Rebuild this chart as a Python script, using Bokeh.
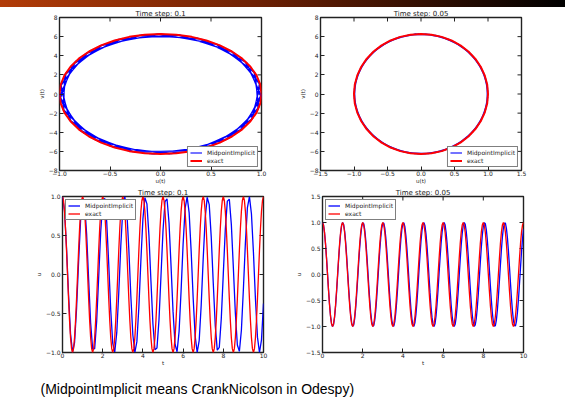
from bokeh.plotting import figure
from bokeh.models import FixedTicker, Label, Range1d, Div
from bokeh.layouts import column, row
from bokeh.embed import file_html
from bokeh.resources import INLINE

# ---------------- data ----------------
titles = ["Time step: 0.1", "Time step: 0.05"]
caption_text = "(MidpointImplicit means CrankNicolson in Odespy)"
series_names = ["MidpointImplicit", "exact"]
step_01 = 0.1
step_005 = 0.05

# MidpointImplicit solution, time step 0.1 (101 steps)
u_mid_01 = [
    1.000, 0.820, 0.346, -0.253, -0.761, -0.995, -0.872, -0.436, 0.157, 0.694,
    0.981, 0.916, 0.521, -0.060, -0.620, -0.957, -0.951, -0.602, -0.037, 0.541,
    0.925, 0.976, 0.677, 0.135, -0.456, -0.883, -0.993, -0.746, -0.231, 0.367,
    0.833, 1.000, 0.807, 0.324, -0.275, -0.775, -0.997, -0.861, -0.415, 0.180,
    0.710, 0.985, 0.906, 0.502, -0.083, -0.638, -0.964, -0.943, -0.584, -0.015,
    0.560, 0.933, 0.971, 0.660, 0.112, -0.476, -0.894, -0.990, -0.730, -0.208,
    0.388, 0.846, 0.999, 0.793, 0.303, -0.297, -0.790, -0.999, -0.849, -0.394,
    0.202, 0.726, 0.989, 0.896, 0.482, -0.106, -0.655, -0.970, -0.935, -0.565,
    0.008, 0.579, 0.941, 0.965, 0.643, 0.089, -0.496, -0.904, -0.986, -0.714,
    -0.186, 0.409, 0.858, 0.998, 0.779, 0.281, -0.318, -0.803, -1.000, -0.837,
    -0.373]
v_mid_01 = [
    0.000, -3.593, -5.895, -6.079, -4.079, -0.613, 3.074, 5.656, 6.205, 4.525,
    1.219, -2.525, -5.361, -6.272, -4.929, -1.815, 1.952, 5.016, 6.279, 5.285,
    2.393, -1.360, -4.624, -6.226, -5.591, -2.947, 0.755, 4.187, 6.114, 5.844,
    3.474, -0.144, -3.710, -5.944, -6.041, -3.968, -0.469, 3.198, 5.717, 6.181,
    4.424, 1.078, -2.655, -5.435, -6.262, -4.838, -1.677, 2.088, 5.102, 6.282,
    5.206, 2.259, -1.500, -4.720, -6.244, -5.524, -2.820, 0.898, 4.293, 6.145,
    5.790, 3.354, -0.287, -3.825, -5.988, -6.000, -3.856, -0.326, 3.321, 5.774,
    6.153, 4.321, 0.936, -2.785, -5.506, -6.248, -4.745, -1.538, 2.223, 5.184,
    6.283, 5.124, 2.124, -1.639, -4.813, -6.258, -5.455, -2.691, 1.040, 4.397,
    6.174, 5.732, 3.232, -0.431, -3.938, -6.030, -5.956, -3.742, -0.183, 3.442,
    5.830]

# MidpointImplicit solution, time step 0.05 (201 steps)
u_mid_005 = [
    1.000, 0.952, 0.812, 0.594, 0.319, 0.013, -0.295, -0.573, -0.797, -0.944,
    -1.000, -0.959, -0.827, -0.614, -0.343, -0.038, 0.270, 0.552, 0.781, 0.935,
    0.999, 0.966, 0.841, 0.634, 0.367, 0.064, -0.245, -0.531, -0.765, -0.926,
    -0.997, -0.972, -0.854, -0.654, -0.390, -0.089, 0.221, 0.509, 0.748, 0.916,
    0.995, 0.978, 0.867, 0.673, 0.413, 0.114, -0.196, -0.487, -0.731, -0.905,
    -0.992, -0.983, -0.879, -0.691, -0.436, -0.140, 0.171, 0.465, 0.714, 0.894,
    0.988, 0.987, 0.891, 0.709, 0.459, 0.165, -0.146, -0.442, -0.696, -0.882,
    -0.984, -0.991, -0.903, -0.727, -0.482, -0.190, 0.120, 0.419, 0.677, 0.870,
    0.979, 0.994, 0.913, 0.744, 0.504, 0.215, -0.095, -0.396, -0.658, -0.857,
    -0.974, -0.997, -0.923, -0.761, -0.526, -0.239, 0.070, 0.372, 0.639, 0.844,
    0.968, 0.998, 0.933, 0.777, 0.547, 0.264, -0.044, -0.349, -0.619, -0.830,
    -0.961, -1.000, -0.942, -0.793, -0.568, -0.289, 0.019, 0.325, 0.599, 0.816,
    0.954, 1.000, 0.950, 0.808, 0.589, 0.313, 0.007, -0.300, -0.578, -0.801,
    -0.946, -1.000, -0.958, -0.823, -0.609, -0.337, -0.032, 0.276, 0.557, 0.785,
    0.937, 0.999, 0.965, 0.837, 0.629, 0.361, 0.057, -0.251, -0.536, -0.769,
    -0.928, -0.998, -0.971, -0.851, -0.649, -0.384, -0.083, 0.227, 0.514, 0.753,
    0.918, 0.995, 0.977, 0.864, 0.668, 0.408, 0.108, -0.202, -0.492, -0.736,
    -0.908, -0.993, -0.982, -0.877, -0.687, -0.431, -0.133, 0.177, 0.470, 0.718,
    0.897, 0.989, 0.986, 0.889, 0.705, 0.454, 0.159, -0.152, -0.448, -0.700,
    -0.885, -0.985, -0.990, -0.900, -0.723, -0.476, -0.184, 0.127, 0.425, 0.682,
    0.873]
v_mid_005 = [
    0.00, -1.93, -3.67, -5.05, -5.96, -6.28, -6.01, -5.15, -3.79, -2.08,
    -0.16, 1.77, 3.54, 4.96, 5.90, 6.28, 6.05, 5.24, 3.92, 2.23,
    0.32, -1.62, -3.41, -4.86, -5.84, -6.27, -6.09, -5.32, -4.05, -2.37,
    -0.48, 1.46, 3.27, 4.76, 5.79, 6.26, 6.13, 5.41, 4.17, 2.53,
    0.64, -1.31, -3.13, -4.65, -5.72, -6.24, -6.16, -5.49, -4.29, -2.67,
    -0.80, 1.15, 2.99, 4.54, 5.66, 6.22, 6.19, 5.56, 4.40, 2.82,
    0.96, -0.99, -2.85, -4.43, -5.58, -6.20, -6.21, -5.64, -4.51, -2.95,
    -1.11, 0.84, 2.71, 4.32, 5.50, 6.17, 6.24, 5.71, 4.62, 3.10,
    1.27, -0.68, -2.56, -4.20, -5.43, -6.14, -6.25, -5.77, -4.73, -3.24,
    -1.43, 0.52, 2.41, 4.08, 5.35, 6.10, 6.27, 5.83, 4.83, 3.37,
    1.58, -0.36, -2.26, -3.95, -5.26, -6.06, -6.28, -5.89, -4.93, -3.51,
    -1.73, 0.20, 2.12, 3.83, 5.17, 6.01, 6.28, 5.94, 5.03, 3.64,
    1.89, -0.04, -1.96, -3.70, -5.08, -5.97, -6.28, -5.99, -5.13, -3.76,
    -2.04, -0.12, 1.81, 3.57, 4.98, 5.92, 6.28, 6.04, 5.22, 3.89,
    2.19, 0.28, -1.66, -3.44, -4.88, -5.86, -6.27, -6.08, -5.30, -4.02,
    -2.34, -0.44, 1.50, 3.30, 4.78, 5.80, 6.26, 6.12, 5.39, 4.14,
    2.49, 0.60, -1.35, -3.16, -4.68, -5.74, -6.25, -6.15, -5.47, -4.25,
    -2.63, -0.76, 1.19, 3.02, 4.57, 5.67, 6.23, 6.18, 5.55, 4.37,
    2.78, 0.92, -1.03, -2.88, -4.46, -5.60, -6.20, -6.21, -5.62, -4.49,
    -2.92, -1.07, 0.87, 2.74, 4.34, 5.52, 6.18, 6.23, 5.69, 4.60,
    3.06]

# exact solution u(t), sampled every 0.05
u_exact = [
    1.000, 0.951, 0.809, 0.588, 0.309, 0.000, -0.309, -0.588, -0.809, -0.951,
    -1.000, -0.951, -0.809, -0.588, -0.309, 0.000, 0.309, 0.588, 0.809, 0.951,
    1.000, 0.951, 0.809, 0.588, 0.309, 0.000, -0.309, -0.588, -0.809, -0.951,
    -1.000, -0.951, -0.809, -0.588, -0.309, 0.000, 0.309, 0.588, 0.809, 0.951,
    1.000, 0.951, 0.809, 0.588, 0.309, 0.000, -0.309, -0.588, -0.809, -0.951,
    -1.000, -0.951, -0.809, -0.588, -0.309, 0.000, 0.309, 0.588, 0.809, 0.951,
    1.000, 0.951, 0.809, 0.588, 0.309, 0.000, -0.309, -0.588, -0.809, -0.951,
    -1.000, -0.951, -0.809, -0.588, -0.309, 0.000, 0.309, 0.588, 0.809, 0.951,
    1.000, 0.951, 0.809, 0.588, 0.309, 0.000, -0.309, -0.588, -0.809, -0.951,
    -1.000, -0.951, -0.809, -0.588, -0.309, 0.000, 0.309, 0.588, 0.809, 0.951,
    1.000, 0.951, 0.809, 0.588, 0.309, 0.000, -0.309, -0.588, -0.809, -0.951,
    -1.000, -0.951, -0.809, -0.588, -0.309, 0.000, 0.309, 0.588, 0.809, 0.951,
    1.000, 0.951, 0.809, 0.588, 0.309, 0.000, -0.309, -0.588, -0.809, -0.951,
    -1.000, -0.951, -0.809, -0.588, -0.309, 0.000, 0.309, 0.588, 0.809, 0.951,
    1.000, 0.951, 0.809, 0.588, 0.309, 0.000, -0.309, -0.588, -0.809, -0.951,
    -1.000, -0.951, -0.809, -0.588, -0.309, 0.000, 0.309, 0.588, 0.809, 0.951,
    1.000, 0.951, 0.809, 0.588, 0.309, 0.000, -0.309, -0.588, -0.809, -0.951,
    -1.000, -0.951, -0.809, -0.588, -0.309, 0.000, 0.309, 0.588, 0.809, 0.951,
    1.000, 0.951, 0.809, 0.588, 0.309, 0.000, -0.309, -0.588, -0.809, -0.951,
    -1.000, -0.951, -0.809, -0.588, -0.309, 0.000, 0.309, 0.588, 0.809, 0.951,
    1.000]

# exact phase-space curve (one period)
u_exact_cycle = [
    1.000, 0.988, 0.951, 0.891, 0.809, 0.707, 0.588, 0.454, 0.309, 0.156,
    0.000, -0.156, -0.309, -0.454, -0.588, -0.707, -0.809, -0.891, -0.951, -0.988,
    -1.000, -0.988, -0.951, -0.891, -0.809, -0.707, -0.588, -0.454, -0.309, -0.156,
    0.000, 0.156, 0.309, 0.454, 0.588, 0.707, 0.809, 0.891, 0.951, 0.988, 1.000]
v_exact_cycle = [
    0.000, -0.983, -1.942, -2.852, -3.693, -4.443, -5.083, -5.598, -5.976, -6.206,
    -6.283, -6.206, -5.976, -5.598, -5.083, -4.443, -3.693, -2.852, -1.942, -0.983,
    0.000, 0.983, 1.942, 2.852, 3.693, 4.443, 5.083, 5.598, 5.976, 6.206,
    6.283, 6.206, 5.976, 5.598, 5.083, 4.443, 3.693, 2.852, 1.942, 0.983, 0.000]

# tick positions and labels
ticks_v = [-8, -6, -4, -2, 0, 2, 4, 6, 8]
labels_v = ["\u22128", "\u22126", "\u22124", "\u22122", "0", "2", "4", "6", "8"]
ticks_u1 = [-1.0, -0.5, 0.0, 0.5, 1.0]
labels_u1 = ["\u22121.0", "\u22120.5", "0.0", "0.5", "1.0"]
ticks_u2 = [-1.5, -1.0, -0.5, 0.0, 0.5, 1.0, 1.5]
labels_u2 = ["\u22121.5", "\u22121.0", "\u22120.5", "0.0", "0.5", "1.0", "1.5"]
ticks_t = [0, 2, 4, 6, 8, 10]
labels_t = ["0", "2", "4", "6", "8", "10"]

# time grids
t_mid_01 = [round(i * step_01, 3) for i in range(len(u_mid_01))]
t_mid_005 = [round(i * step_005, 3) for i in range(len(u_mid_005))]
t_exact = [round(i * step_005, 3) for i in range(len(u_exact))]

BLUE = "#0000ff"
RED = "#ff0000"
FONT = "DejaVu Sans"
TXT = "#222222"
FRAME = "#222222"
TICK_PX = 4


def make_fig(title, xr, yr, xt, xl, yt, yl, xlab, ylab, fw, fh, bl, br, bb):
    p = figure(frame_width=fw, frame_height=fh, x_range=Range1d(*xr), y_range=Range1d(*yr),
               output_backend="svg", toolbar_location=None,
               min_border_left=bl, min_border_right=br, min_border_top=0, min_border_bottom=bb)
    p.title.text = title
    p.title.align = "center"
    p.title.text_font = FONT
    p.title.text_font_size = "7px"
    p.title.text_font_style = "normal"
    p.title.text_color = TXT
    p.title.standoff = 0
    p.title.offset = 0
    p.grid.visible = False
    p.outline_line_color = FRAME
    p.outline_line_width = 1.4
    p.background_fill_color = "white"
    p.border_fill_color = "white"
    for ax, ticks, labels, lab, std, lstd in ((p.xaxis[0], xt, xl, xlab, 0, -1),
                                               (p.yaxis[0], yt, yl, ylab, 2, 1)):
        ax.ticker = FixedTicker(ticks=ticks)
        ax.major_label_overrides = {k: s for k, s in zip(ticks, labels)}
        ax.axis_line_color = None
        ax.major_tick_in = TICK_PX
        ax.major_tick_out = 0
        ax.major_tick_line_color = FRAME
        ax.minor_tick_line_color = None
        ax.major_label_text_font = FONT
        ax.major_label_text_font_size = "6px"
        ax.major_label_text_color = TXT
        ax.major_label_standoff = std
        ax.axis_label = lab
        ax.axis_label_text_font = FONT
        ax.axis_label_text_font_size = "5.5px"
        ax.axis_label_text_font_style = "normal"
        ax.axis_label_text_color = TXT
        ax.axis_label_standoff = lstd
    # tick marks on the top and right edges of the frame (matplotlib style)
    dx = (xr[1] - xr[0]) / fw * TICK_PX
    dy = (yr[1] - yr[0]) / fh * TICK_PX
    p.segment(x0=[xr[1]] * len(yt), y0=yt, x1=[xr[1] - dx] * len(yt), y1=yt,
              line_color=FRAME, line_width=1)
    p.segment(x0=xt, y0=[yr[1]] * len(xt), x1=xt, y1=[yr[1] - dy] * len(xt),
              line_color=FRAME, line_width=1)
    return p


def style_legend(p, loc):
    lg = p.legend[0]
    lg.location = loc
    lg.border_line_color = "black"
    lg.border_line_width = 1
    lg.background_fill_color = "white"
    lg.background_fill_alpha = 1
    lg.label_text_font = FONT
    lg.label_text_font_size = "6px"
    lg.label_text_color = TXT
    lg.glyph_width = 12
    lg.glyph_height = 7
    lg.label_height = 7
    lg.label_standoff = 5
    lg.spacing = 1
    lg.padding = 2
    lg.margin = 3


# slide header bar (decoration)
bar = Div(text="", width=565, height=7, margin=0,
          styles={"background": "linear-gradient(90deg, #b23c08 0%, #6e2104 45%, #000000 100%)"})

# top-left: phase plot dt=0.1
p1 = make_fig(titles[0], (-1, 1), (-8, 8), ticks_u1, labels_u1, ticks_v, labels_v,
              "u(t)", "v(t)", 202, 153, 59, 29, 14)
p1.line(u_mid_01, v_mid_01, line_color=BLUE, line_width=1.1, legend_label=series_names[0])
p1.line(u_exact_cycle, v_exact_cycle, line_color=RED, line_width=2.0, legend_label=series_names[1])
style_legend(p1, "bottom_right")

# top-right: phase plot dt=0.05
p2 = make_fig(titles[1], (-1.5, 1.5), (-8, 8), ticks_u2, labels_u2, ticks_v, labels_v,
              "u(t)", "v(t)", 201, 153, 30, 44, 14)
p2.line(u_mid_005, v_mid_005, line_color=BLUE, line_width=1.1, legend_label=series_names[0])
p2.line(u_exact_cycle, v_exact_cycle, line_color=RED, line_width=2.0, legend_label=series_names[1])
style_legend(p2, "bottom_right")

# bottom-left: u(t), dt=0.1
p3 = make_fig(titles[0], (0, 10), (-1, 1), ticks_t, labels_t, ticks_u1, labels_u1,
              "t", "u", 201, 156, 62, 27, 14)
p3.line(t_mid_01, u_mid_01, line_color=BLUE, line_width=1.3, legend_label=series_names[0])
p3.line(t_exact, u_exact, line_color=RED, line_width=1.3, legend_label=series_names[1])
style_legend(p3, "top_left")

# bottom-right: u(t), dt=0.05
p4 = make_fig(titles[1], (0, 10), (-1.5, 1.5), ticks_t, labels_t, ticks_u2, labels_u2,
              "t", "u", 201, 156, 32, 42, 14)
p4.line(t_mid_005, u_mid_005, line_color=BLUE, line_width=1.3, legend_label=series_names[0])
p4.line(t_exact, u_exact, line_color=RED, line_width=1.3, legend_label=series_names[1])
style_legend(p4, "top_left")

# caption
cap = figure(width=565, height=34, x_range=Range1d(0, 1), y_range=Range1d(0, 1), title=None,
             x_axis_type=None, y_axis_type=None, output_backend="svg",
             toolbar_location=None, min_border=0)
cap.grid.visible = False
cap.outline_line_color = None
cap.add_layout(Label(x=40, y=14, x_units="screen", y_units="screen", text=caption_text,
                     text_font="Liberation Sans", text_font_size="14px",
                     text_color="black", text_baseline="middle"))

layout = column(bar, row(p1, p2, spacing=0), row(p3, p4, spacing=0), cap, spacing=0)

open("out.html", "w").write(file_html(layout, INLINE))
